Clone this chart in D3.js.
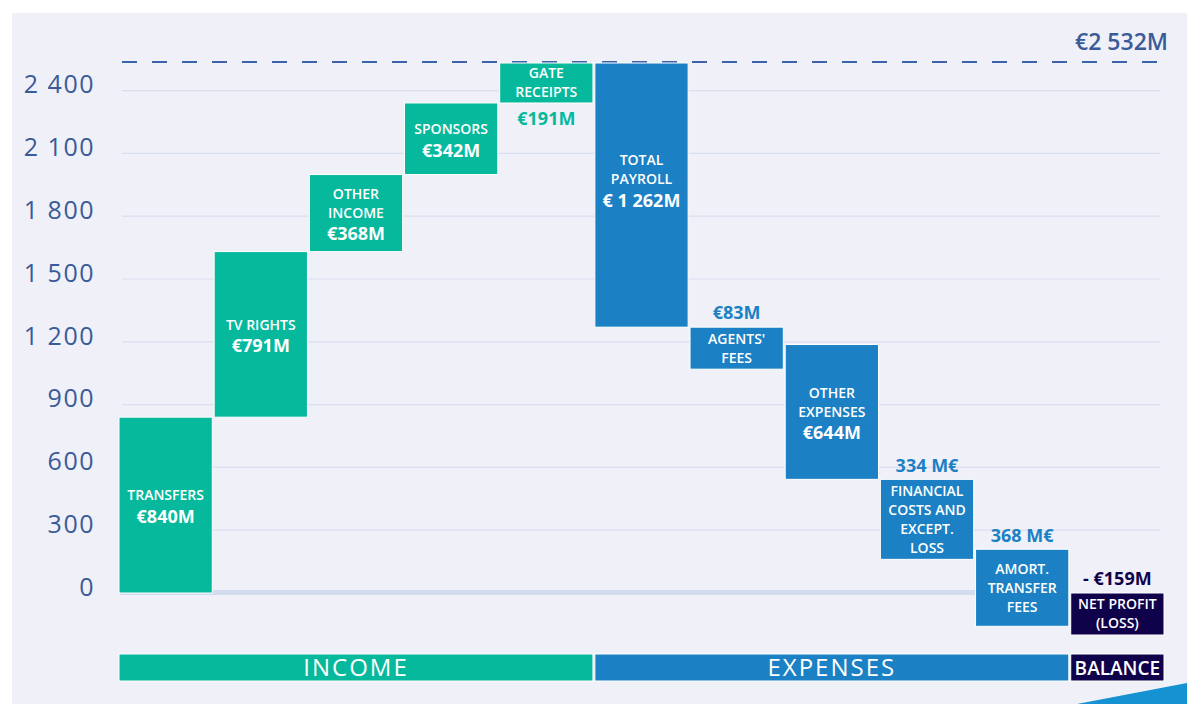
<!DOCTYPE html>
<html>
<head>
<meta charset="utf-8">
<script src="https://cdn.jsdelivr.net/npm/d3@7"></script>
<style>
  body { margin: 0; background: #fff; }
  svg { display: block; font-family: "Open Sans", sans-serif; }
</style>
</head>
<body>
<div id="chart"></div>
<script>
// waterfall data (million €)
const categories = ["TRANSFERS", "TV RIGHTS", "OTHER|INCOME", "SPONSORS", "GATE|RECEIPTS",
  "TOTAL|PAYROLL", "AGENTS'|FEES", "OTHER|EXPENSES", "FINANCIAL|COSTS AND|EXCEPT.|LOSS",
  "AMORT.|TRANSFER|FEES", "NET PROFIT|(LOSS)"];
const values = [840, 791, 368, 342, 191, -1262, -83, -644, -334, -368, -159];
const valueLabels = ["€840M", "€791M", "€368M", "€342M", "€191M", "€ 1 262M", "€83M",
  "€644M", "334 M€", "368 M€", "- €159M"];
const groupOf = [0, 0, 0, 0, 0, 1, 1, 1, 1, 1, 2];
const groups = ["INCOME", "EXPENSES", "BALANCE"];
const yTicks = [0, 300, 600, 900, 1200, 1500, 1800, 2100, 2400];
const totalIncome = 2532;
const totalLabel = "€2 532M";

const colors = ["#06b89c", "#1b80c4", "#0f024a"];

const width = 1187, height = 704;
const svg = d3.select("#chart").append("svg")
  .attr("width", width).attr("height", height);

// panel
svg.append("rect").attr("x", 12).attr("y", 13)
  .attr("width", width - 12).attr("height", height - 13)
  .attr("fill", "#eff0f8");
svg.append("path")
  .attr("d", "M1077,704 L1187,683 L1187,704 Z")
  .attr("fill", "#1592d2");

const x = d3.scaleBand().domain(d3.range(categories.length))
  .range([119, 1164]).paddingInner(0.02);
const y = d3.scaleLinear().domain([0, totalIncome]).range([593, 63]);

// build waterfall steps
let run = 0;
const bars = values.map((v, i) => {
  let start, end;
  if (groupOf[i] === 2) { start = 0; end = v; }
  else { start = run; end = run + v; run = end; }
  return { i, v, start, end, lines: categories[i].split("|"), label: valueLabels[i], g: groupOf[i] };
});

// grid
svg.append("g").selectAll("line")
  .data(yTicks.filter(d => d > 0))
  .join("line")
  .attr("x1", 122).attr("x2", 1160)
  .attr("y1", d => y(d)).attr("y2", d => y(d))
  .attr("stroke", "#d8dff0").attr("stroke-width", 1.2);

// zero band
svg.append("rect")
  .attr("x", 120).attr("y", y(0) - 3)
  .attr("width", x(9) - 120).attr("height", 5)
  .attr("fill", "#d3dbee");

// y axis labels
svg.append("g").selectAll("text")
  .data(yTicks)
  .join("text")
  .attr("x", 95).attr("y", d => y(d) - 6)
  .attr("dy", "0.35em")
  .attr("text-anchor", "end")
  .attr("font-size", 25).attr("font-weight", 500)
  .attr("letter-spacing", 1.5)
  .attr("fill", "#3a5a98")
  .text(d => d3.format(",")(d).replace(/,/g, " "));

// dashed total line
svg.append("line")
  .attr("x1", 122).attr("x2", 1168)
  .attr("y1", y(totalIncome) - 1).attr("y2", y(totalIncome) - 1)
  .attr("stroke", "#3c62a8").attr("stroke-width", 1.8)
  .attr("stroke-dasharray", "15,15");
svg.append("text")
  .attr("x", 1168).attr("y", 50)
  .attr("text-anchor", "end")
  .attr("font-size", 23).attr("font-weight", 600)
  .attr("fill", "#3a5a98")
  .text(totalLabel);

// bars (small expense bars get a minimum height so their names fit)
const lh = 19;
bars.forEach(d => {
  d.top = y(Math.max(d.start, d.end));
  d.bot = y(Math.min(d.start, d.end));
  const need = d.lines.length * lh + 4;
  if (d.g > 0 && d.bot - d.top < need) d.bot = d.top + need;
});

const bar = svg.append("g").selectAll("g").data(bars).join("g");
bar.append("rect")
  .attr("x", d => x(d.i))
  .attr("y", d => d.top)
  .attr("width", x.bandwidth())
  .attr("height", d => d.bot - d.top)
  .attr("fill", d => colors[d.g])
  .attr("stroke", "#fff").attr("stroke-width", 1);

bar.each(function(d) {
  const g = d3.select(this);
  const top = d.top, bot = d.bot;
  const h = bot - top;
  const cx = x(d.i) + x.bandwidth() / 2;
  const inside = (d.lines.length + 1) * lh + 10 <= h;
  const lineH = inside ? lh : Math.min(lh, (h - 2) / d.lines.length);
  const n = inside ? d.lines.length + 1 : d.lines.length;
  const blockH = (n - 1) * lineH;
  // very tall bars keep their label in the upper part
  const mid = h > 200 ? top + h * 0.44 : (top + bot) / 2;
  const y0 = mid - blockH / 2;
  d.lines.forEach((t, k) => {
    g.append("text")
      .attr("x", cx).attr("y", y0 + k * lineH)
      .attr("dy", "0.35em").attr("text-anchor", "middle")
      .attr("font-size", 14).attr("font-weight", 600)
      .attr("fill", "#fff")
      .text(t);
  });
  if (inside) {
    g.append("text")
      .attr("x", cx).attr("y", y0 + d.lines.length * lh + 2)
      .attr("dy", "0.35em").attr("text-anchor", "middle")
      .attr("font-size", 18).attr("font-weight", 700)
      .attr("fill", "#fff")
      .text(d.label);
  } else {
    const below = d.g === 0;
    g.append("text")
      .attr("x", cx).attr("y", below ? bot + 16 : top - 14)
      .attr("dy", "0.35em").attr("text-anchor", "middle")
      .attr("font-size", 18).attr("font-weight", 700)
      .attr("fill", d.g === 2 ? "#0f024a" : colors[d.g])
      .text(d.label);
  }
});

// group strip
const strip = svg.append("g").selectAll("g")
  .data(groups.map((name, k) => {
    const idx = d3.range(categories.length).filter(i => groupOf[i] === k);
    return { name, k, x0: x(idx[0]), x1: x(idx[idx.length - 1]) + x.bandwidth() };
  }))
  .join("g");
strip.append("rect")
  .attr("x", d => d.x0).attr("y", 654)
  .attr("width", d => d.x1 - d.x0).attr("height", 27)
  .attr("fill", d => colors[d.k])
  .attr("stroke", "#fff").attr("stroke-width", 1);
strip.append("text")
  .attr("x", d => (d.x0 + d.x1) / 2).attr("y", 668)
  .attr("dy", "0.35em").attr("text-anchor", "middle")
  .attr("font-size", d => d.k === 2 ? 19 : 24)
  .attr("font-weight", d => d.k === 2 ? 600 : 400)
  .attr("letter-spacing", d => d.k === 2 ? 0 : 2)
  .attr("fill", "#fff")
  .text(d => d.name);
</script>
</body>
</html>
